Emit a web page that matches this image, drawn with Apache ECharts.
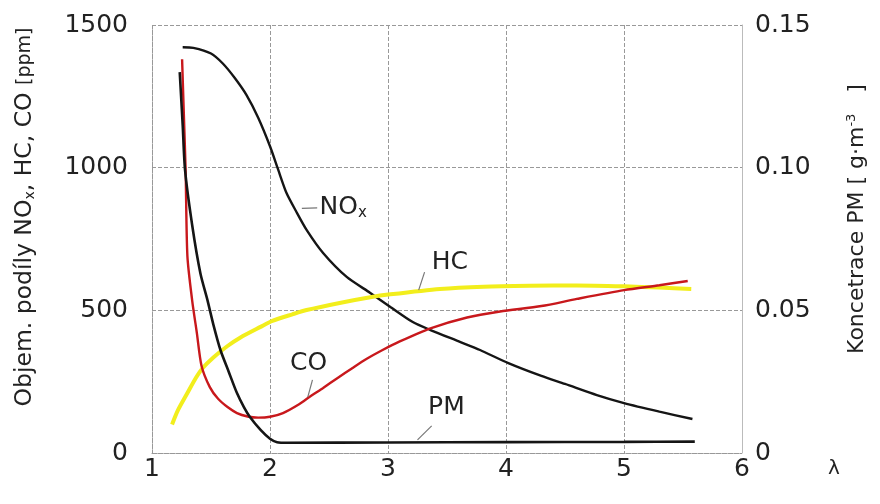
<!DOCTYPE html>
<html><head><meta charset="utf-8">
<script src="https://cdn.jsdelivr.net/npm/echarts@6/dist/echarts.min.js"></script>
<style>html,body{margin:0;padding:0;background:#fff}#c{width:880px;height:504px}</style>
</head><body><div id="c"></div>
<script>
// ---- data ----
const xTicks = [1, 2, 3, 4, 5, 6];
const leftTicks = [0, 500, 1000, 1500];
const rightTicks = [0, 0.05, 0.10, 0.15];

const noxLambda = [1.26,1.35,1.5,1.6,1.7,1.8,1.9,2.0,2.07,2.14,2.22,2.31,2.45,2.65,2.85,3.02,3.21,3.36,3.6,3.78,4.02,4.3,4.5,4.77,5.0,5.3,5.58];
const noxPpm    = [1422,1420,1400,1365,1315,1255,1175,1075,992,911,848,782,701,617,561,512,459,431,391,361,315,270,242,203,175,145,119];

const hcLambda = [1.17,1.22,1.30,1.37,1.43,1.52,1.64,1.75,1.92,2.02,2.19,2.31,2.59,2.85,3.02,3.44,3.81,4.2,4.6,5.0,5.3,5.57];
const hcPpm    = [100,150,210,262,298,335,375,405,442,463,486,501,526,546,556,575,583,586,587,584,580,575];

const coLambda = [1.255,1.27,1.285,1.30,1.34,1.38,1.42,1.49,1.56,1.64,1.72,1.81,1.9,2.0,2.11,2.25,2.34,2.45,2.57,2.7,2.82,2.95,3.1,3.36,3.67,3.95,4.3,4.6,5.0,5.3,5.54];
const coPpm    = [1380,1185,990,690,536,421,305,231,190,161,140,128,124,127,140,172,198,228,262,298,330,360,391,437,475,496,515,540,571,588,603];

const pmLambda = [1.235,1.26,1.28,1.34,1.41,1.47,1.52,1.58,1.65,1.72,1.78,1.83,1.92,2.0,2.06,2.15,3.0,4.0,5.0,5.6];
const pmConc   = [0.1335,0.115,0.0992,0.080,0.063,0.0536,0.045,0.0361,0.0285,0.021,0.016,0.0126,0.0081,0.005,0.0038,0.0036,0.0037,0.0038,0.0039,0.0040];

const seriesNames = ['NOx', 'HC', 'CO', 'PM'];

// ---- chart ----
const FONT = 'DejaVu Sans';
const TXT = '#222';
const zip = (a, b) => a.map((v, i) => [v, b[i]]);
const chart = echarts.init(document.getElementById('c'), null, {renderer: 'canvas'});

const lineSeries = (name, data, color, width, yIdx) => ({
  name, type: 'line', data, yAxisIndex: yIdx, showSymbol: false, symbol: 'none',
  smooth: 0.25, silent: true,
  lineStyle: {color, width}, z: 3
});

chart.setOption({
  animation: false,
  backgroundColor: '#fff',
  grid: {left: 152, right: 138, top: 25, bottom: 51},
  xAxis: {
    type: 'value', min: xTicks[0], max: xTicks[xTicks.length - 1], interval: 1,
    name: 'λ', nameLocation: 'end', nameGap: 86,
    nameTextStyle: {fontFamily: FONT, fontSize: 20, color: TXT, verticalAlign: 'top', padding: [6, 0, 0, 0]},
    axisLine: {show: true, onZero: false, lineStyle: {color: '#999', type: 'dotted'}},
    axisTick: {show: false},
    axisLabel: {margin: 4, fontFamily: FONT, fontSize: 25, color: TXT},
    splitLine: {show: true, lineStyle: {color: '#999', type: 'dashed', width: 1}}
  },
  yAxis: [{
    type: 'value', position: 'left', min: leftTicks[0], max: leftTicks[leftTicks.length - 1], interval: 500,
    name: '{a|Objem. podíly NO}{s|x}{a|, HC, CO }{b|[ppm]}',
    nameLocation: 'middle', nameRotate: 90, nameGap: 115,
    nameTextStyle: {
      padding: [0, 0, 0, 44],
      rich: {
        a: {fontFamily: FONT, fontSize: 23.5, color: TXT},
        s: {fontFamily: FONT, fontSize: 14, color: TXT, padding: [10, 0, 0, 0]},
        b: {fontFamily: FONT, fontSize: 19, color: TXT}
      }
    },
    axisLine: {show: true, lineStyle: {color: '#999', type: 'dotted'}},
    axisTick: {show: false},
    axisLabel: {margin: 24, fontFamily: FONT, fontSize: 25, color: TXT, formatter: v => String(v)},
    splitLine: {show: true, lineStyle: {color: '#999', type: 'dashed', width: 1}}
  }, {
    type: 'value', position: 'right', min: rightTicks[0], max: rightTicks[rightTicks.length - 1], interval: 0.05,
    name: '{a|Koncetrace PM [ g·m}{s|-3}{a|   ]}',
    nameLocation: 'middle', nameRotate: 90, nameGap: 103,
    nameTextStyle: {
      padding: [0, 0, 0, 40],
      rich: {
        a: {fontFamily: FONT, fontSize: 22, color: TXT},
        s: {fontFamily: FONT, fontSize: 13, color: TXT, padding: [0, 0, 12, 0]}
      }
    },
    axisLine: {show: true, lineStyle: {color: '#bbb', type: 'solid'}},
    axisTick: {show: false},
    axisLabel: {margin: 13, fontFamily: FONT, fontSize: 25, color: TXT,
      formatter: v => v === 0 ? '0' : v.toFixed(2)},
    splitLine: {show: false}
  }],
  series: [
    lineSeries(seriesNames[0], zip(noxLambda, noxPpm), '#151515', 2.4, 0),
    lineSeries(seriesNames[1], zip(hcLambda, hcPpm), '#f2ee1c', 4, 0),
    lineSeries(seriesNames[2], zip(coLambda, coPpm), '#c8181c', 2.4, 0),
    lineSeries(seriesNames[3], zip(pmLambda, pmConc), '#151515', 2.6, 1)
  ]
});

// ---- annotations, anchored in data coordinates (left axis) ----
const annotations = [
  {text: '{a|NO}{s|x}', at: [2.42, 859], lead: [[2.27, 857], [2.40, 859]]},
  {text: '{a|HC}',      at: [3.37, 666], lead: [[3.26, 571], [3.31, 634]]},
  {text: '{a|CO}',      at: [2.17, 315], lead: [[2.36, 256], [2.32, 196]]},
  {text: '{a|PM}',      at: [3.34, 161], lead: [[3.37, 95], [3.25, 46]]}
];
const px = p => chart.convertToPixel({xAxisIndex: 0, yAxisIndex: 0}, p);
const graphics = [];
annotations.forEach(a => {
  const p = px(a.at);
  graphics.push({
    type: 'text', x: p[0], y: p[1], z: 10, silent: true,
    style: {
      text: a.text, align: 'left', verticalAlign: 'middle',
      rich: {
        a: {fontFamily: FONT, fontSize: 25, fill: TXT},
        s: {fontFamily: FONT, fontSize: 15, fill: TXT, padding: [10, 0, 0, 0]}
      }
    }
  });
  const l0 = px(a.lead[0]), l1 = px(a.lead[1]);
  graphics.push({
    type: 'line', z: 10, silent: true,
    shape: {x1: l0[0], y1: l0[1], x2: l1[0], y2: l1[1]},
    style: {stroke: '#777', lineWidth: 1.2}
  });
});
chart.setOption({graphic: graphics});
</script>
</body></html>
